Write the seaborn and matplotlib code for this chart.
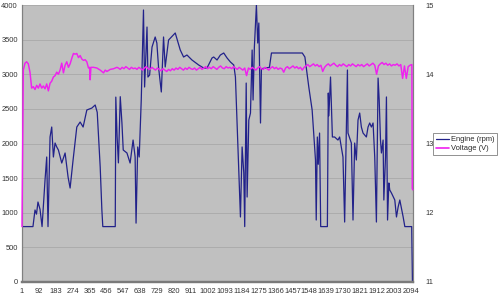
import matplotlib
matplotlib.use("Agg")
import matplotlib.pyplot as plt
import seaborn as sns
import pandas as pd
from matplotlib.lines import Line2D

# ---------------- data ----------------
x_tick_labels = [1, 92, 183, 274, 365, 456, 547, 638, 729, 820, 911, 1002, 1093,
                 1184, 1275, 1366, 1457, 1548, 1639, 1730, 1821, 1912, 2003, 2094]

engine_idx = [1, 3, 60, 71, 79, 87, 98, 109, 125, 134,
              141, 152, 161, 170, 179, 188, 197, 215, 233, 249,
              260, 276, 296, 314, 330, 350, 377, 395, 406, 422,
              431, 436, 503, 506, 513, 520, 530, 539, 546, 566,
              583, 592, 599, 610, 615, 624, 632, 643, 655, 661,
              674, 679, 688, 701, 718, 727, 736, 751, 763, 772,
              790, 826, 853, 871, 889, 916, 952, 979, 997, 1024,
              1033, 1051, 1069, 1087, 1105, 1123, 1141, 1150, 1177, 1186,
              1195, 1200, 1208, 1213, 1222, 1231, 1240, 1245, 1252, 1263,
              1270, 1276, 1285, 1290, 1333, 1344, 1510, 1524, 1545, 1563,
              1581, 1585, 1591, 1596, 1603, 1609, 1645, 1650, 1653, 1662,
              1672, 1684, 1702, 1711, 1729, 1738, 1747, 1753, 1756, 1774,
              1783, 1792, 1801, 1810, 1819, 1828, 1837, 1855, 1864, 1873,
              1882, 1891, 1900, 1909, 1918, 1924, 1931, 1936, 1945, 1949,
              1958, 1963, 1969, 1976, 1981, 1990, 2008, 2017, 2026, 2035,
              2053, 2062, 2099, 2103]

engine_rpm = [0, 800, 800, 1040, 980, 1155, 1050, 800, 1473, 1805,
              800, 2094, 2238, 1805, 2007, 1950, 1906, 1718, 1863, 1516,
              1357, 1762, 2238, 2310, 2238, 2484, 2512, 2556, 2450, 1660,
              1040, 800, 800, 2670, 2100, 1720, 2676, 2296, 1906, 1863,
              1718, 1906, 2050, 1805, 850, 1950, 1805, 2628, 3928, 2816,
              3682, 2960, 2989, 3393, 3538, 3451, 3105, 2744, 3538, 3105,
              3494, 3596, 3350, 3249, 3278, 3206, 3134, 3090, 3090, 3235,
              3249, 3206, 3278, 3307, 3235, 3177, 3134, 2960, 939, 1950,
              1574, 800, 2873, 1227, 2339, 2440, 3350, 2628, 3393, 4000,
              3451, 3740, 2296, 3080, 3100, 3307, 3307, 3249, 2816, 2484,
              1762, 895, 2094, 1700, 2151, 800, 800, 2729, 2400, 2960,
              2094, 2094, 2050, 2094, 1805, 866, 2195, 3061, 2151, 2007,
              895, 2007, 1762, 2339, 2440, 2238, 2151, 2094, 2238, 2296,
              2238, 2296, 1805, 866, 2945, 2628, 2050, 1863, 2050, 1184,
              1805, 2672, 895, 1430, 1328, 1285, 1184, 939, 1083, 1184,
              939, 800, 800, 0]

volt_idx_start = [1, 8, 17, 26, 35, 44, 53, 62, 71, 80,
                  89, 98, 107, 116, 125, 134, 143, 152, 161, 170,
                  179, 188, 197, 206, 215, 224, 233, 242, 251, 260,
                  269, 278, 287, 296, 305, 314, 323, 332, 341, 350,
                  359, 365, 368, 372, 386, 404, 422, 440, 449, 458, 476, 494, 512]
volt_start = [11.8, 14.06, 14.16, 14.18, 14.15, 14.03, 13.80, 13.82, 13.78, 13.84,
              13.80, 13.86, 13.80, 13.83, 13.79, 13.86, 13.76, 13.87, 13.90, 13.96,
              13.98, 14.03, 14.00, 14.06, 14.16, 14.02, 14.13, 14.18, 14.10, 14.15,
              14.23, 14.30, 14.29, 14.30, 14.24, 14.27, 14.22, 14.20, 14.21, 14.18,
              14.09, 14.10, 13.92, 14.10, 14.10, 14.09, 14.06, 14.02, 14.06, 14.04, 14.07, 14.08, 14.10]

# samples 520 .. 2090, every 10
volt_main = [14.09, 14.07, 14.10, 14.08, 14.11, 14.09, 14.07, 14.10, 14.08, 14.09,
             14.07, 14.10, 14.08, 14.06, 14.09, 14.11, 14.08, 14.07, 14.10, 14.08,
             14.06, 14.09, 14.07, 14.05, 14.08, 14.06, 14.04, 14.07, 14.05, 14.08,
             14.06, 14.09, 14.07, 14.10, 14.08, 14.06, 14.09, 14.07, 14.10, 14.08,
             14.07, 14.09, 14.06, 14.08, 14.10, 14.07, 14.09, 14.11, 14.08, 14.10,
             14.08, 14.11, 14.09, 14.07, 14.10, 14.12, 14.09, 14.08, 14.11, 14.09,
             14.10, 14.08, 14.11, 14.09, 14.07, 14.10, 14.08, 14.06, 14.09, 13.98,
             14.09, 14.07, 14.10, 14.08, 14.06, 14.09, 14.11, 14.08, 14.07, 14.10,
             14.08, 14.06, 14.09, 14.11, 14.08, 14.10, 14.07, 14.09, 14.08, 14.03,
             14.09, 14.11, 14.08, 14.10, 14.12, 14.09, 14.11, 14.08, 14.10, 14.06,
             14.10, 14.12, 14.14, 14.11, 14.13, 14.15, 14.12, 14.14, 14.11, 14.13,
             14.04, 14.10, 14.13, 14.15, 14.12, 14.14, 14.16, 14.13, 14.11, 14.14,
             14.12, 14.15, 14.13, 14.11, 14.14, 14.12, 14.15, 14.13, 14.11, 14.14,
             14.12, 14.14, 14.11, 14.13, 14.15, 14.12, 14.14, 14.16, 14.13, 14.00,
             14.12, 14.15, 14.17, 14.14, 14.16, 14.13, 14.15, 14.12, 14.14, 14.13,
             14.15, 14.12, 14.14, 13.94, 14.12, 13.94, 14.11, 14.13]

volt_idx_end = [2100, 2102, 2105]
volt_end = [14.14, 12.35, 12.33]

volt_idx = volt_idx_start + list(range(520, 2091, 10)) + volt_idx_end
volt_v = volt_start + volt_main + volt_end

engine_df = pd.DataFrame({"sample": engine_idx, "rpm": engine_rpm})
volt_df = pd.DataFrame({"sample": volt_idx, "volt": volt_v})

# ---------------- style ----------------
sns.set_style("white")
plt.rcParams["font.family"] = ["Liberation Sans", "DejaVu Sans"]

NAVY = "#22228A"
MAGENTA = "#F020F0"
FS = 5.4

fig = plt.figure(figsize=(5.0, 2.98), dpi=100)
fig.patch.set_facecolor("white")
ax = fig.add_axes([0.044, 0.0537, 0.782, 0.9295])
ax.set_facecolor("#C0C0C0")

sns.lineplot(data=engine_df, x="sample", y="rpm", ax=ax, color=NAVY,
             linewidth=0.9, estimator=None, sort=False, legend=False)

ax.set_xlim(1, 2106)
ax.set_ylim(0, 4000)
ax.set_yticks(range(0, 4001, 500))
ax.set_xticks(x_tick_labels)
ax.set_xticklabels([str(v) for v in x_tick_labels])
ax.grid(axis="y", color="#A9A9A9", linewidth=0.6)
ax.grid(axis="x", visible=False)
ax.set_axisbelow(True)
ax.set_xlabel("")
ax.set_ylabel("")
ax.tick_params(axis="y", length=0, pad=3, labelsize=FS, labelcolor="#333333")
ax.tick_params(axis="x", length=0, pad=4, labelsize=FS, labelcolor="#333333")

ax2 = ax.twinx()
sns.lineplot(data=volt_df, x="sample", y="volt", ax=ax2, color=MAGENTA,
             linewidth=1.05, estimator=None, sort=False, legend=False)
ax2.set_ylim(11, 15)
ax2.set_yticks([11, 12, 13, 14, 15])
ax2.set_ylabel("")
ax2.tick_params(axis="y", length=0, pad=9, labelsize=FS, labelcolor="#333333")
ax2.set_xlim(1, 2106)
for ln in ax2.get_lines():
    ln.set_zorder(5)
    ln.set_clip_on(False)

for a in (ax, ax2):
    a.spines["top"].set_visible(False)
    a.spines["left"].set_color("#808080")
    a.spines["left"].set_linewidth(0.8)
    a.spines["left"].set_zorder(1)
    a.spines["right"].set_color("#808080")
    a.spines["right"].set_linewidth(0.8)
    a.spines["bottom"].set_color("#7A7A7A")
    a.spines["bottom"].set_linewidth(1.6)

handles = [Line2D([0], [0], color=NAVY, linewidth=0.9),
           Line2D([0], [0], color=MAGENTA, linewidth=1.2)]
leg = fig.legend(handles, ["Engine (rpm)", "Voltage (V)"],
                 loc="upper left", bbox_to_anchor=(0.866, 0.554),
                 fontsize=FS, frameon=True, fancybox=False,
                 edgecolor="#808080", framealpha=1.0,
                 handlelength=1.7, handletextpad=0.25, borderpad=0.4,
                 labelspacing=0.25, borderaxespad=0.0)
leg.get_frame().set_linewidth(0.6)

fig.savefig("out.png", dpi=100, facecolor="white")
